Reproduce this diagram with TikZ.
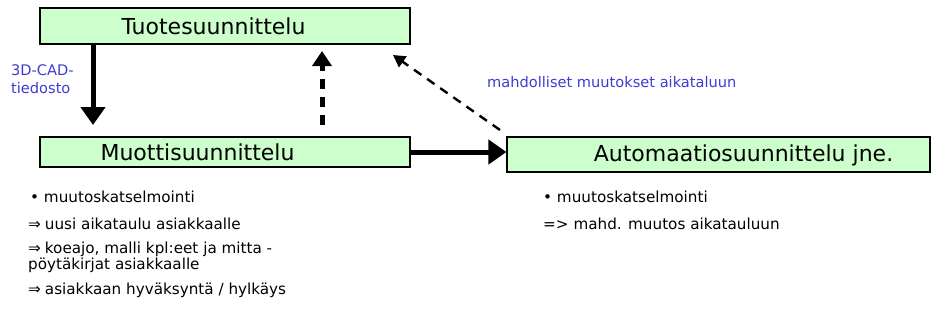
\documentclass[tikz,border=0pt]{standalone}
\usepackage{fontspec}
\setmainfont{DejaVu Sans}
\usetikzlibrary{arrows.meta}

\definecolor{boxgreen}{RGB}{204,255,204}
\definecolor{noteblue}{RGB}{60,60,210}

\newcommand{\thenarrow}{⇒\hspace{4pt}}

\tikzset{
  stagebox/.style={draw=black, line width=1.2pt, fill=boxgreen, inner sep=0pt},
  boxtext/.style={font=\fontsize{22}{25}\selectfont},
  smalltext/.style={font=\fontsize{15.2}{14}\selectfont, inner sep=0pt, anchor=base west, align=left},
  bluetext/.style={font=\fontsize{14.6}{18}\selectfont, inner sep=0pt, anchor=base west, align=left, text=noteblue},
  solidflow/.style={line width=5pt, -{Triangle[length=18pt,width=24pt]}},
  dashflow/.style={line width=5pt, dash pattern=on 10pt off 8pt, -{Triangle[length=15pt,width=19pt]}},
  thindash/.style={line width=2.4pt, dash pattern=on 9pt off 7pt, -{Triangle[length=12pt,width=13pt]}}
}

\begin{document}
\begin{tikzpicture}[x=1pt,y=-1pt]
\useasboundingbox (0,0) rectangle (933,327);

% process stages
\node[stagebox, minimum width=370pt, minimum height=36pt,
      label={[boxtext, xshift=-11.5pt]center:Tuotesuunnittelu}] (tuote) at (225,26) {};
\node[stagebox, minimum width=370pt, minimum height=30pt,
      label={[boxtext, xshift=-27.5pt]center:Muottisuunnittelu}] (muotti) at (225,152) {};
\node[stagebox, minimum width=423pt, minimum height=35pt,
      label={[boxtext, xshift=25pt, yshift=-0.5pt]center:Automaatiosuunnittelu jne.}] (auto) at (718.5,154.5) {};

% free arrow ends
\coordinate (cadEnd) at (93,125);
\coordinate (upTail) at (322,125);
\coordinate (upTip) at (322,51);
\coordinate (diagTail) at (500,130);
\coordinate (diagTip) at (393,55);

% connectors
\draw[solidflow] (tuote.south -| cadEnd) -- (cadEnd);
\draw[dashflow] (upTail) -- (upTip);
\draw[thindash] (diagTail) -- (diagTip);
\draw[solidflow] (muotti.east) -- (auto.west |- muotti.east);

% connector notes (base anchor sits on the last line)
\node[bluetext] (cad) at (11,93) {3D-CAD-\\tiedosto};
\node[bluetext] (change) at (487,87) {mahdolliset muutokset aikataluun};

% notes under the mould design stage
\node[smalltext] (m1) at (30,202) {• muutoskatselmointi};
\node[smalltext] (m2) at (28,229) {\thenarrow uusi aikataulu asiakkaalle};
\node[smalltext] (m3) at (28,269) {\thenarrow koeajo, malli kpl:eet ja mitta -\\pöytäkirjat asiakkaalle};
\node[smalltext] (m4) at (28,294) {\thenarrow asiakkaan hyväksyntä / hylkäys};

% notes under the automation stage
\node[smalltext] (a1) at (543,202) {• muutoskatselmointi};
\node[smalltext] (a2) at (543,229) {=> mahd. muutos aikatauluun};
\end{tikzpicture}
\end{document}
